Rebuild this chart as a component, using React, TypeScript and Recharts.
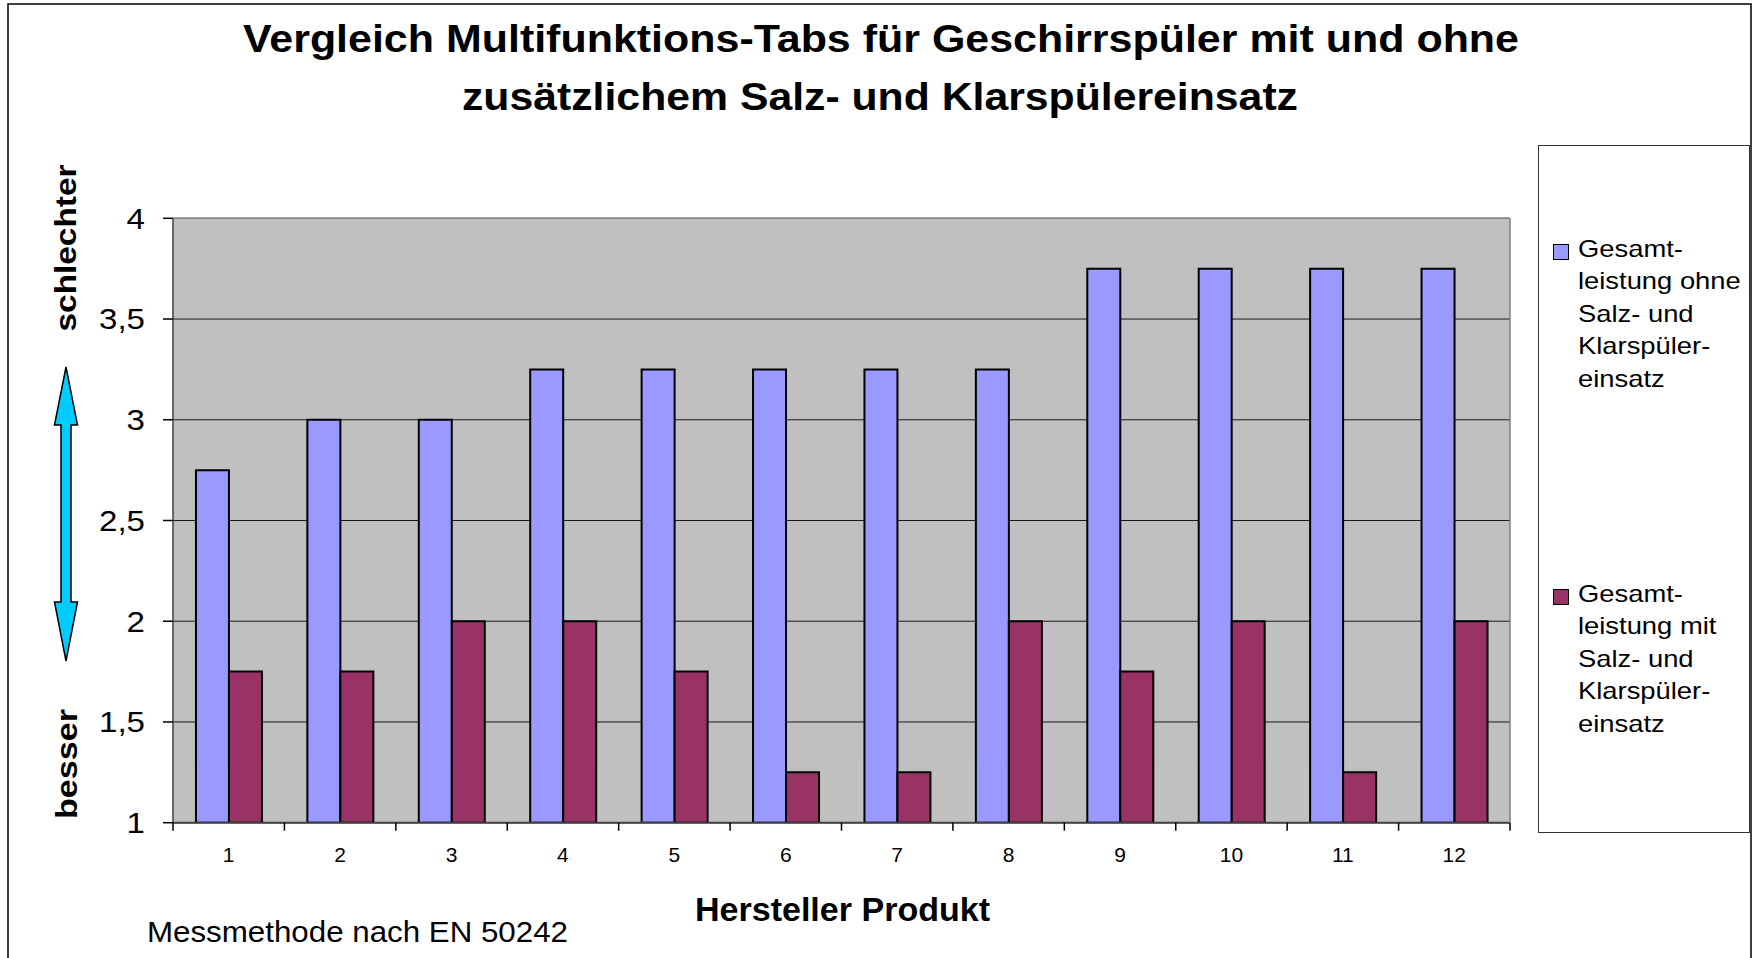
import React from 'react';
import { BarChart, Bar, XAxis, YAxis, CartesianGrid, Legend } from 'recharts';

const categories = ['1', '2', '3', '4', '5', '6', '7', '8', '9', '10', '11', '12'];
const ohneSalz = [2.75, 3, 3, 3.25, 3.25, 3.25, 3.25, 3.25, 3.75, 3.75, 3.75, 3.75];
const mitSalz = [1.75, 1.75, 2, 2, 1.75, 1.25, 1.25, 2, 1.75, 2, 1.25, 2];
const yTicks = [1, 1.5, 2, 2.5, 3, 3.5, 4];
const seriesKeys = ['ohne', 'mit'];
const seriesNames = [
  'Gesamtleistung ohne Salz- und Klarspülereinsatz',
  'Gesamtleistung mit Salz- und Klarspülereinsatz',
];
const legendLines = [
  ['Gesamt-', 'leistung ohne', 'Salz- und', 'Klarspüler-', 'einsatz'],
  ['Gesamt-', 'leistung mit', 'Salz- und', 'Klarspüler-', 'einsatz'],
];
const titleLines = [
  'Vergleich Multifunktions-Tabs für Geschirrspüler mit und ohne',
  'zusätzlichem Salz- und Klarspülereinsatz',
];
const xAxisTitle = 'Hersteller Produkt';
const yTop = 'schlechter';
const yBottom = 'besser';
const footnote = 'Messmethode nach EN 50242';

const data = categories.map((c, i) => ({ name: c, ohne: ohneSalz[i], mit: mitSalz[i] }));

const FONT = "'Liberation Sans', Arial, Helvetica, sans-serif";
const W = 1755;
const H = 958;
const YAXIS_W = 173;
const XAXIS_H = 60;
const MARGIN = { top: 218.3, right: 245, left: 0, bottom: 958 - 822.7 - 60 };
const PLOT_L = MARGIN.left + YAXIS_W;
const PLOT_R = W - MARGIN.right;
const PLOT_T = MARGIN.top;
const BAND = (PLOT_R - PLOT_L) / categories.length;

const fmt = (v: number) => String(v).replace('.', ',');

function YTick(props: any) {
  const { x, y, payload } = props;
  return (
    <g transform={`translate(${x},${y})`}>
      <text x={0} y={0} dy="0.36em" textAnchor="end" transform="scale(1.14,1)" fontFamily={FONT} fontSize={29} fill="#000">
        {fmt(payload.value)}
      </text>
    </g>
  );
}

function XTick(props: any) {
  const { x, y, payload, index } = props;
  const half = BAND / 2;
  return (
    <g>
      <line x1={x - half} x2={x - half} y1={y} y2={y + 8} stroke="#000" strokeWidth={1.5} />
      {index === categories.length - 1 && (
        <line x1={x + half} x2={x + half} y1={y} y2={y + 8} stroke="#000" strokeWidth={1.5} />
      )}
      <text x={x} y={y + 39} textAnchor="middle" fontFamily={FONT} fontSize={21} fill="#000">
        {payload.value}
      </text>
    </g>
  );
}

const sqTop = [97.5, 443];
const txtTop = [86.8, 431.8];

function LegendContent(props: any) {
  const payload = props.payload || [];
  const ordered = seriesKeys
    .map((k) => payload.find((e: any) => e.dataKey === k))
    .filter(Boolean);
  return (
    <div style={{ position: 'relative', width: '100%', height: '100%' }}>
      {ordered.map((entry: any, i: number) => (
        <div key={i}>
          <div
            style={{
              position: 'absolute',
              left: 14,
              top: sqTop[i],
              width: 14,
              height: 14,
              background: entry.color,
              border: '1px solid #000',
            }}
          />
          <div
            style={{
              position: 'absolute',
              left: 39,
              top: txtTop[i],
              fontFamily: FONT,
              fontSize: 24,
              lineHeight: '32.5px',
              transform: 'scaleX(1.14)',
              transformOrigin: 'left top',
              whiteSpace: 'nowrap',
              color: '#000',
            }}
          >
            {legendLines[i].map((l) => (
              <div key={l}>{l}</div>
            ))}
          </div>
        </div>
      ))}
    </div>
  );
}

export default function App() {
  const cx = 66;
  const arrow = [
    [cx, 367], [cx + 11.5, 425], [cx + 5, 425], [cx + 5, 602], [cx + 11.5, 602],
    [cx, 661], [cx - 11.5, 602], [cx - 5, 602], [cx - 5, 425], [cx - 11.5, 425],
  ].map((p) => p.join(',')).join(' ');
  return (
    <div style={{ position: 'absolute', left: 0, top: 0, width: W, height: H, background: '#fff' }}>
      <BarChart width={W} height={H} data={data} margin={MARGIN} barCategoryGap="20.6%" barGap={0}>
        <CartesianGrid vertical={false} fill="#C0C0C0" fillOpacity={1} stroke="#1a1a1a" strokeWidth={1} />
        <XAxis
          dataKey="name"
          height={XAXIS_H}
          tickLine={false}
          tickSize={0}
          tickMargin={0}
          axisLine={{ stroke: '#404040', strokeWidth: 2 }}
          tick={(p: any) => <XTick {...p} />}
          interval={0}
        />
        <YAxis
          type="number"
          domain={[1, 4]}
          ticks={yTicks}
          allowDataOverflow
          width={YAXIS_W}
          tickSize={10}
          tickMargin={18}
          axisLine={{ stroke: '#404040', strokeWidth: 1.5 }}
          tickLine={{ stroke: '#000', strokeWidth: 1.5 }}
          tick={(p: any) => <YTick {...p} />}
          interval={0}
        />
        <Legend
          layout="vertical"
          align="center"
          verticalAlign="middle"
          itemSorter={null as any}
          content={(p: any) => <LegendContent {...p} />}
          wrapperStyle={{
            left: 1538,
            top: 145,
            width: 212,
            height: 688,
            border: '1px solid #333',
            boxSizing: 'border-box',
            background: '#fff',
            margin: 0,
            padding: 0,
          }}
        />
        <Bar dataKey="ohne" name={seriesNames[0]} fill="#9999FF" stroke="#000" strokeWidth={2} isAnimationActive={false} />
        <Bar dataKey="mit" name={seriesNames[1]} fill="#993366" stroke="#000" strokeWidth={2} isAnimationActive={false} />
      </BarChart>
      <svg width={W} height={H} style={{ position: 'absolute', left: 0, top: 0, pointerEvents: 'none' }}>
        <rect x={8} y={4} width={1743} height={1100} fill="none" stroke="#000" strokeWidth={1.5} />
        <line x1={PLOT_L} x2={PLOT_R} y1={PLOT_T} y2={PLOT_T} stroke="#808080" strokeWidth={1.5} />
        <line x1={PLOT_R} x2={PLOT_R} y1={PLOT_T} y2={822.7} stroke="#808080" strokeWidth={1.5} />
        <text x={881} y={52} textAnchor="middle" fontFamily={FONT} fontWeight="bold" fontSize={38} textLength={1276} lengthAdjust="spacingAndGlyphs" fill="#000">
          {titleLines[0]}
        </text>
        <text x={880} y={110} textAnchor="middle" fontFamily={FONT} fontWeight="bold" fontSize={38} textLength={836} lengthAdjust="spacingAndGlyphs" fill="#000">
          {titleLines[1]}
        </text>
        <polygon points={arrow} fill="#00CCFF" stroke="#000" strokeWidth={1.5} />
        <text x={76} y={248} transform="rotate(-90,76,248)" textAnchor="middle" fontFamily={FONT} fontWeight="bold" fontSize={29} textLength={167} lengthAdjust="spacingAndGlyphs" fill="#000">
          {yTop}
        </text>
        <text x={77} y={764} transform="rotate(-90,77,764)" textAnchor="middle" fontFamily={FONT} fontWeight="bold" fontSize={29} textLength={110} lengthAdjust="spacingAndGlyphs" fill="#000">
          {yBottom}
        </text>
        <text x={842.5} y={921} textAnchor="middle" fontFamily={FONT} fontWeight="bold" fontSize={34} textLength={295} lengthAdjust="spacingAndGlyphs" fill="#000">
          {xAxisTitle}
        </text>
        <text x={147} y={942} fontFamily={FONT} fontSize={29} textLength={421} lengthAdjust="spacingAndGlyphs" fill="#000">
          {footnote}
        </text>
      </svg>
    </div>
  );
}
